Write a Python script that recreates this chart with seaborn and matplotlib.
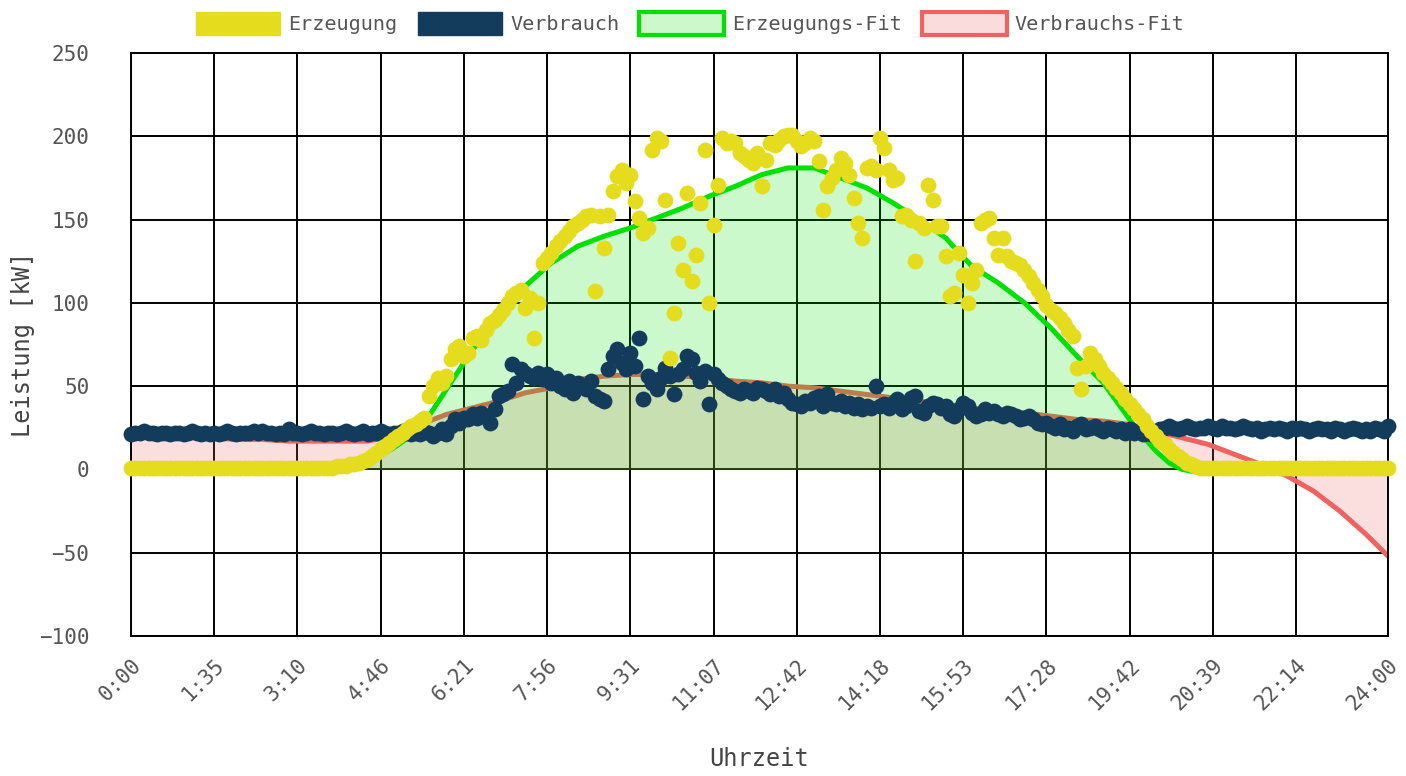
import numpy as np
import matplotlib
matplotlib.use("Agg")
import matplotlib.pyplot as plt
from matplotlib.patches import Patch
import seaborn as sns

# tick labels on the category axis (one label every 19 samples, last one at the end)
tick_pos = [0, 19, 38, 57, 76, 95, 114, 133, 152, 171, 190, 209, 228, 247, 266, 287]
tick_labels = ['0:00', '1:35', '3:10', '4:46', '6:21', '7:56', '9:31', '11:07',
               '12:42', '14:18', '15:53', '17:28', '19:42', '20:39', '22:14', '24:00']

# Erzeugung [kW], 288 samples (5 min)
erzeugung = [
    1, 1, 1, 1, 1, 1, 1, 1, 1, 1, 1, 1, 1, 1, 1, 1, 1, 1, 1, 1,
    1, 1, 1, 1, 1, 1, 1, 1, 1, 1, 1, 1, 1, 1, 1, 1, 1, 1, 1, 1,
    1, 1, 1, 1, 1,
    1, 1, 2, 2, 2, 3, 3, 4, 5, 6, 8, 10, 12, 14, 16,
    18, 20, 22, 24, 26, 27, 29, 31, 44, 50, 55, 52, 56, 66, 72,
    74, 68, 70, 79, 80, 78, 84, 88, 90, 93, 96, 100, 104, 106, 108,
    97, 103, 79, 100, 124, 127, 130, 134, 137, 140, 143, 146, 148, 150, 152,
    153, 107, 152, 133, 153, 167, 176, 180, 172, 177, 161, 151, 142, 145, 192,
    199, 197, 162, 67, 94, 136, 120, 166, 113, 129, 160, 192, 100, 147, 171,
    199, 196, 197, 196, 190, 188, 186, 184, 190, 170, 186, 196, 195, 198, 200,
    201, 201, 197, 194, 196, 199, 197, 185, 156, 170, 175, 180, 187, 184, 177,
    163, 148, 139, 181, 182, 180, 199, 193, 180, 174, 175, 152, 153, 150, 125,
    148, 145, 171, 162, 146, 146, 128, 104, 106, 130, 117, 100, 112, 120, 148,
    150, 151, 139, 129, 139, 128, 125, 124, 123, 120, 116, 112, 108, 104, 99,
    96, 94, 91, 88, 84, 80, 61, 48, 62, 70, 66, 62, 58, 55, 52,
    49, 46, 42, 39, 36, 33, 30, 26, 23, 20, 17, 15, 12, 10, 8,
    6, 4, 3, 2, 1,
    1, 1, 1, 1, 1, 1, 1, 1, 1, 1, 1, 1, 1, 1, 1, 1, 1, 1, 1, 1,
    1, 1, 1, 1, 1, 1, 1, 1, 1, 1, 1, 1, 1, 1, 1, 1, 1, 1, 1, 1,
    1, 1, 1,
]

# Verbrauch [kW]
verbrauch = [
    21, 22, 22, 23, 22, 22, 21, 22, 22, 21, 22, 22, 21, 22, 23, 22, 21, 22, 21, 22,
    21, 22, 23, 22, 21, 22, 22, 22, 23, 22, 23, 22, 22, 21, 22, 21, 24, 22, 22, 21,
    22, 23, 22, 22, 21, 22, 22, 21, 22, 23, 22, 21, 22, 23, 21, 22, 22, 23, 22, 21,
    22,
    22, 23, 22, 21, 22, 21, 23, 22, 20, 22, 24, 21, 26, 30, 28, 31, 30, 33, 31,
    34, 32, 28, 36, 44, 45, 47, 63, 52, 60, 58, 56, 55, 58, 54, 57, 52, 55, 50, 48,
    53, 46, 52, 50, 48, 53, 44, 42, 41, 60, 68, 72, 64, 60, 70, 62, 79, 42, 56, 52,
    48, 55, 61, 56, 45, 57, 60, 68, 66, 58, 53, 59, 39, 57, 54, 52, 50, 48, 47, 46,
    48, 47, 46, 49, 48, 47, 45, 48, 44, 46, 42, 40, 39, 38, 41, 40, 43, 44, 38, 45,
    40, 39, 41, 38, 40, 37, 39, 36, 38, 37, 50, 38, 39, 37, 40, 42, 36, 38, 43, 44,
    35, 34, 38, 40, 39, 37, 38, 33, 32, 36, 40, 38, 34, 32, 33, 36, 34, 35, 33, 32,
    34, 33, 32, 30, 31, 32, 30, 28, 27, 28, 26, 25, 27, 24, 25, 23, 26, 27, 24, 25,
    26, 24, 23, 25, 24, 23, 24, 22, 24, 22, 23, 21, 22, 21, 23,
    24, 25, 26, 25, 24, 25, 26, 25, 24, 25, 25, 26, 25, 24, 26, 25, 25, 24, 25, 26,
    25, 24, 25, 23, 24, 25, 24, 25, 24, 23, 25, 24, 25, 24, 23, 24, 25, 24, 24, 23,
    25, 24, 23, 24, 25, 24, 23, 24, 23, 25, 24, 23, 26,
]

# fit curves, read every 6th sample (a few extra where the curve bends)
fit_idx = [0, 6, 12, 18, 24, 30, 36, 42, 48, 54, 60, 66, 72, 78, 84, 90, 96, 102,
           108, 114, 120, 126, 132, 138, 144, 150, 156, 162, 168, 174, 180, 186,
           192, 198, 204, 210, 216, 222, 228, 231, 234, 237, 240, 243, 246, 252,
           258, 264, 270, 276, 282, 287]
erzeugung_fit = [0, 0, 0, 0, 0, 0, 0, 0, 0.5, 4, 13, 24, 48, 72, 91, 110, 124, 134,
                 140, 145, 151, 157, 164, 170, 177, 181, 181, 175, 169, 160, 150, 139,
                 122, 112, 100, 85, 68, 52, 30, 20, 11, 4, 0, -1.5, 0, 0,
                 0, 0, 0, 0, 0, 0]
verbrauch_fit = [20, 20, 19, 19, 18, 18, 17, 17, 17, 17, 20, 27, 33, 37, 41, 46, 49, 54,
                 56, 57, 57, 56, 55, 53, 52, 50, 49, 47, 45, 43, 41, 39,
                 37, 35, 34, 32, 30, 29, 27, 25, 23, 21, 19, 17, 15, 9,
                 3, -4, -13, -25, -39, -52]

assert len(erzeugung) == 288 and len(verbrauch) == 288
assert len(fit_idx) == len(erzeugung_fit) == len(verbrauch_fit)

yellow = '#e6dc1e'
navy = '#133b5c'
lime = '#00e100'
red = '#ee635f'
text_col = '#555555'

sns.set_style('white')
plt.rcParams['font.family'] = ['DejaVu Sans Mono', 'DejaVu Sans']

x = np.arange(len(erzeugung))

fig = plt.figure(figsize=(14.06, 7.76), dpi=100)
ax = fig.add_axes([131 / 1406, 1 - 636 / 776, 1257 / 1406, 583 / 776])

# Verbrauchs-Fit (bottom layer)
ax.fill_between(fit_idx, verbrauch_fit, 0, color=red, alpha=0.2, linewidth=0, zorder=1)
sns.lineplot(x=fit_idx, y=verbrauch_fit, color=red, linewidth=3.6, ax=ax, zorder=1.1)
# Erzeugungs-Fit
sns.lineplot(x=fit_idx, y=erzeugung_fit, color=lime, linewidth=3.6, ax=ax, zorder=1.2)
ax.fill_between(fit_idx, erzeugung_fit, 0, color=(0, 225 / 255, 0), alpha=0.2,
                linewidth=0, zorder=1.3)

# measured points
sns.scatterplot(x=x, y=verbrauch, color=navy, s=130, linewidth=0, ax=ax,
                zorder=3, clip_on=False)
sns.scatterplot(x=x, y=erzeugung, color=yellow, s=130, linewidth=0, ax=ax,
                zorder=4, clip_on=False)

ax.set_xlim(0, 287)
ax.set_ylim(-100, 250)
ax.set_yticks(np.arange(-100, 251, 50))
ax.set_xticks(tick_pos)
ax.set_xticklabels(tick_labels, rotation=45, ha='right', rotation_mode='anchor')

ax.set_axisbelow(True)
ax.grid(True, color='black', linewidth=1.4)
for sp in ax.spines.values():
    sp.set_color('black')
    sp.set_linewidth(1.4)

ax.tick_params(axis='x', length=8, width=1.4, color='black', pad=6,
               labelsize=15, labelcolor=text_col)
ax.tick_params(axis='y', length=0, pad=30, labelsize=15, labelcolor=text_col)

ax.set_xlabel('Uhrzeit', fontsize=17, color='#444444')
ax.set_ylabel('Leistung [kW]', fontsize=17, color='#444444')
ax.xaxis.set_label_coords(0.5, -0.19)
ax.yaxis.set_label_coords(-0.076, 0.5)

handles = [
    Patch(facecolor=yellow, edgecolor=yellow, linewidth=1, label='Erzeugung'),
    Patch(facecolor=navy, edgecolor=navy, linewidth=1, label='Verbrauch'),
    Patch(facecolor='#ccf8cc', edgecolor=lime, linewidth=3, label='Erzeugungs-Fit'),
    Patch(facecolor='#fadcdc', edgecolor=red, linewidth=3, label='Verbrauchs-Fit'),
]
leg = fig.legend(handles=handles, loc='upper center', bbox_to_anchor=(690 / 1406, 1.0),
                 ncol=4, frameon=False, fontsize=14.5, handlelength=4.2,
                 handleheight=1.35, handletextpad=0.4, columnspacing=1.0,
                 borderaxespad=0.2)
for t in leg.get_texts():
    t.set_color(text_col)

fig.savefig('out.png', dpi=100)
